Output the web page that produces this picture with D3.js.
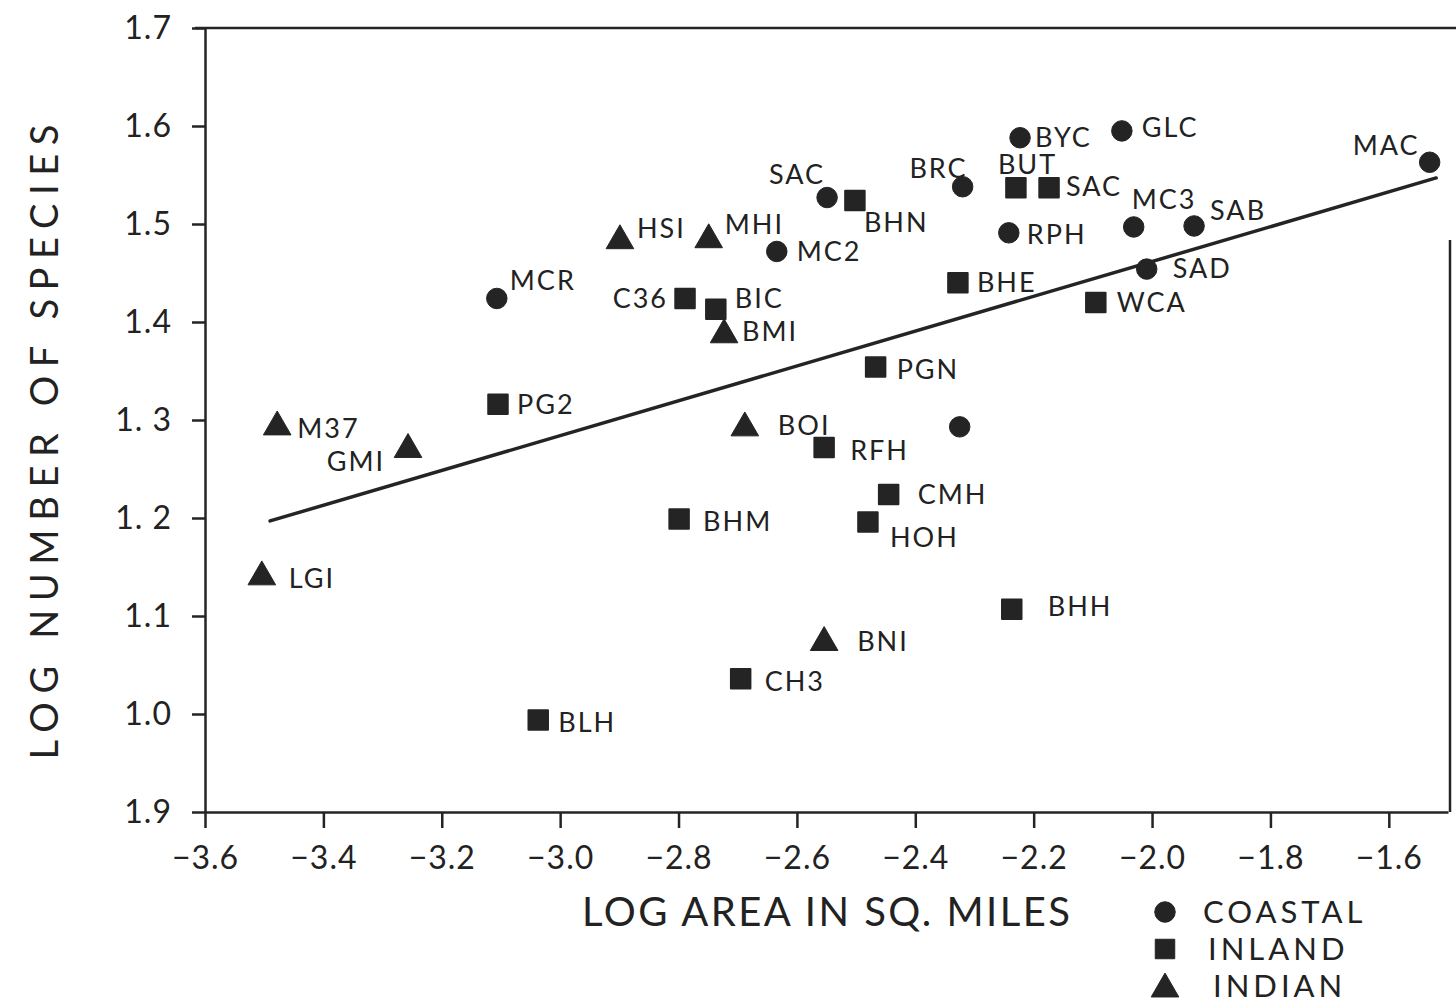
<!DOCTYPE html>
<html>
<head>
<meta charset="utf-8">
<script src="https://cdn.jsdelivr.net/npm/d3@7"></script>
<style>
  html, body { margin: 0; padding: 0; background: #fff; }
  svg text { font-family: Lato, "DejaVu Sans", sans-serif; fill: #222; }
</style>
</head>
<body>
<svg id="chart" width="1456" height="1005"></svg>
<script>
// site groups
const coastalNames = ['MCR', 'SAC', 'MC2', 'BRC', 'BYC', 'GLC', 'MAC', 'RPH', 'MC3', 'SAB', 'SAD', ''];
const coastalArea = [-3.107, -2.549, -2.634, -2.320, -2.223, -2.051, -1.531, -2.242, -2.031, -1.929, -2.009, -2.325];
const coastalSpecies = [1.424, 1.527, 1.472, 1.538, 1.588, 1.595, 1.563, 1.491, 1.497, 1.498, 1.454, 1.293];

const inlandNames = ['BHN', 'BUT', 'SAC', 'BHE', 'WCA', 'C36', 'BIC', 'PGN', 'PG2', 'RFH', 'CMH', 'HOH', 'BHM', 'BHH', 'CH3', 'BLH'];
const inlandArea = [-2.502, -2.230, -2.174, -2.328, -2.095, -2.789, -2.737, -2.467, -3.105, -2.554, -2.445, -2.480, -2.799, -2.237, -2.695, -3.037];
const inlandSpecies = [1.524, 1.537, 1.537, 1.440, 1.420, 1.424, 1.413, 1.354, 1.316, 1.272, 1.224, 1.196, 1.199, 1.107, 1.036, 0.994];

const indianNames = ['HSI', 'MHI', 'BMI', 'M37', 'GMI', 'LGI', 'BOI', 'BNI'];
const indianArea = [-2.899, -2.749, -2.723, -3.478, -3.257, -3.504, -2.688, -2.554];
const indianSpecies = [1.486, 1.487, 1.390, 1.296, 1.273, 1.143, 1.295, 1.076];

// fitted line, end points
const fitArea = [-3.49, -1.52];
const fitSpecies = [1.197, 1.547];

const xTicks = [-3.6, -3.4, -3.2, -3.0, -2.8, -2.6, -2.4, -2.2, -2.0, -1.8, -1.6];
const xTickLabels = ['−3.6', '−3.4', '−3.2', '−3.0', '−2.8', '−2.6', '−2.4', '−2.2', '−2.0', '−1.8', '−1.6'];
const yTicks = [0.9, 1.0, 1.1, 1.2, 1.3, 1.4, 1.5, 1.6, 1.7];
const yTickLabels = ['1.9', '1.0', '1.1', '1. 2', '1. 3', '1.4', '1.5', '1.6', '1.7'];

const legendNames = ['COASTAL', 'INLAND', 'INDIAN'];

// label placement next to each mark [dx, dy, anchor]
const labelPos = {
  MCR: [13, -8, 'start'], 'SAC.c': [-2, -14, 'end'], MC2: [20, 10, 'start'], BRC: [5, -9, 'end'],
  BYC: [15, 9, 'start'], GLC: [20, 6, 'start'], MAC: [-10, -7, 'end'], RPH: [18, 11, 'start'],
  MC3: [-2, -18, 'start'], SAB: [16, -6, 'start'], SAD: [26, 9, 'start'],
  BHN: [9, 32, 'start'], BUT: [-18, -14, 'start'], 'SAC.s': [17, 8, 'start'], BHE: [19, 9, 'start'],
  WCA: [21, 10, 'start'], C36: [-17, 10, 'end'], BIC: [19, -1, 'start'], PGN: [21, 12, 'start'],
  PG2: [19, 10, 'start'], RFH: [26, 13, 'start'], CMH: [29, 10, 'start'], HOH: [22, 25, 'start'],
  BHM: [24, 12, 'start'], BHH: [36, 7, 'start'], CH3: [24, 12, 'start'], BLH: [20, 12, 'start'],
  HSI: [17, 0, 'start'], MHI: [16, -3, 'start'], BMI: [18, 9, 'start'], M37: [20, 14, 'start'],
  GMI: [-23, 25, 'end'], LGI: [27, 14, 'start'], BOI: [33, 10, 'start'], BNI: [33, 11, 'start']
};

const ink = '#242424';
const svg = d3.select('#chart');

const x = d3.scaleLinear().domain([-3.6, -1.5]).range([205, 1448]);
const y = d3.scaleLinear().domain([0.9, 1.7]).range([812, 28]);

// top frame line and right edge
svg.append('line')
  .attr('x1', 195).attr('x2', 1456)
  .attr('y1', y(1.7)).attr('y2', y(1.7))
  .attr('stroke', ink).attr('stroke-width', 2.5);
svg.append('line')
  .attr('x1', x(-1.5) + 2).attr('x2', x(-1.5) + 2)
  .attr('y1', 240).attr('y2', y(0.9))
  .attr('stroke', ink).attr('stroke-width', 2.5);

// axes
const xAxis = svg.append('g')
  .attr('transform', 'translate(0,' + y(0.9) + ')')
  .call(d3.axisBottom(x).tickValues(xTicks).tickSizeInner(16).tickSizeOuter(0).tickPadding(18)
    .tickFormat((d, i) => xTickLabels[i]));

const yAxis = svg.append('g')
  .attr('transform', 'translate(' + x(-3.6) + ',0)')
  .call(d3.axisLeft(y).tickValues(yTicks).tickSizeInner(13).tickSizeOuter(0).tickPadding(20)
    .tickFormat((d, i) => yTickLabels[i]));

[xAxis, yAxis].forEach(function(ax) {
  ax.select('.domain').attr('stroke', ink).attr('stroke-width', 2.5);
  ax.selectAll('.tick line').attr('stroke', ink).attr('stroke-width', 2.5);
  ax.selectAll('.tick text')
    .attr('fill', ink)
    .style('font-family', 'Lato, "DejaVu Sans", sans-serif')
    .style('font-size', '32px')
    .style('letter-spacing', '1px');
});

// axis titles
svg.append('text')
  .attr('transform', 'translate(58,442) rotate(-90)')
  .attr('text-anchor', 'middle')
  .attr('textLength', 635).attr('lengthAdjust', 'spacing')
  .style('font-size', '38px')
  .text('LOG NUMBER OF SPECIES');

svg.append('text')
  .attr('x', 826).attr('y', 926)
  .attr('text-anchor', 'middle')
  .attr('textLength', 488).attr('lengthAdjust', 'spacing')
  .style('font-size', '40px')
  .text('LOG AREA IN SQ. MILES');

// regression line
svg.append('path')
  .datum(d3.zip(fitArea, fitSpecies))
  .attr('fill', 'none')
  .attr('stroke', ink)
  .attr('stroke-width', 3.5)
  .attr('stroke-linecap', 'round')
  .attr('d', d3.line().x(d => x(d[0])).y(d => y(d[1])));

// marks
const shapes = {
  circle: d3.symbol().type(d3.symbolCircle).size(330),
  square: d3.symbol().type(d3.symbolSquare).size(380),
  triangle: d3.symbol().type(d3.symbolTriangle).size(330)
};

const groups = [
  {names: coastalNames, xs: coastalArea, ys: coastalSpecies, shape: 'circle', key: '.c'},
  {names: inlandNames, xs: inlandArea, ys: inlandSpecies, shape: 'square', key: '.s'},
  {names: indianNames, xs: indianArea, ys: indianSpecies, shape: 'triangle', key: '.t'}
];

groups.forEach(function(grp) {
  const pts = grp.names.map((n, i) => ({name: n, a: grp.xs[i], s: grp.ys[i]}));
  const g = svg.append('g').attr('class', 'pts-' + grp.shape);

  g.selectAll('path')
    .data(pts)
    .enter().append('path')
    .attr('transform', d => 'translate(' + x(d.a) + ',' + (y(d.s) + (grp.shape === 'triangle' ? 3 : 0)) + ')')
    .attr('d', shapes[grp.shape])
    .attr('fill', ink)
    .attr('stroke', ink)
    .attr('stroke-width', grp.shape === 'square' ? 2 : 1)
    .attr('stroke-linejoin', 'round');

  g.selectAll('text')
    .data(pts.filter(d => d.name !== ''))
    .enter().append('text')
    .each(function(d) {
      const p = labelPos[d.name + grp.key] || labelPos[d.name];
      d3.select(this)
        .attr('x', x(d.a) + p[0])
        .attr('y', y(d.s) + p[1])
        .attr('text-anchor', p[2]);
    })
    .style('font-size', '27px')
    .style('letter-spacing', '2px')
    .text(d => d.name);
});

// legend
const legendShapes = ['circle', 'square', 'triangle'];
const legend = svg.append('g').attr('transform', 'translate(1165,912)');
legendNames.forEach(function(name, i) {
  const row = legend.append('g').attr('transform', 'translate(0,' + (i * 37) + ')');
  row.append('path')
    .attr('d', shapes[legendShapes[i]])
    .attr('transform', legendShapes[i] === 'triangle' ? 'translate(0,3)' : null)
    .attr('fill', ink).attr('stroke', ink).attr('stroke-linejoin', 'round');
  row.append('text')
    .attr('x', 38 + i * 5).attr('y', 11)
    .style('font-size', '31px')
    .style('letter-spacing', '4px')
    .text(name);
});
</script>
</body>
</html>
